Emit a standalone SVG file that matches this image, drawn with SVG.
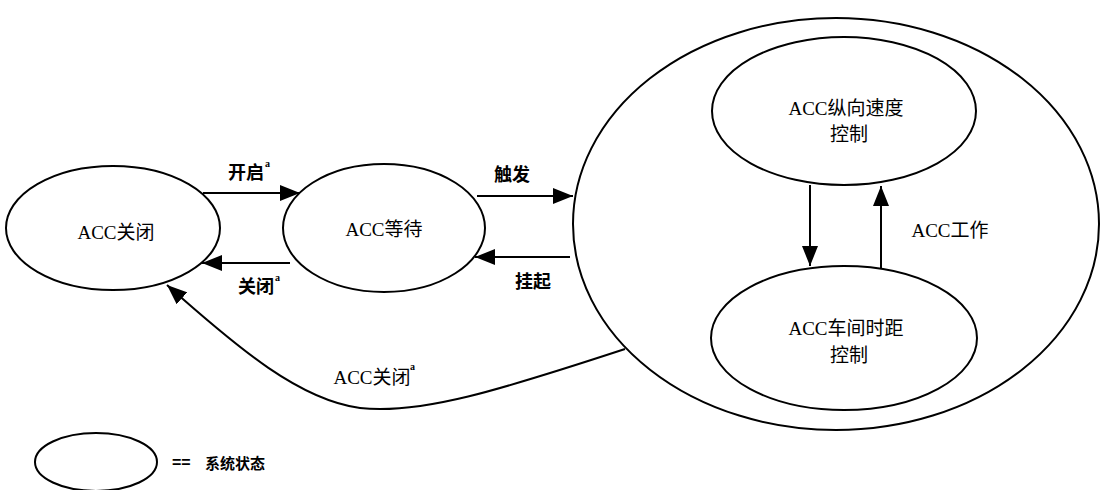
<svg xmlns="http://www.w3.org/2000/svg" width="1102" height="490" viewBox="0 0 1102 490">
<defs>
<marker id="ah" viewBox="0 0 20 16" refX="20" refY="8" markerWidth="20" markerHeight="16" markerUnits="userSpaceOnUse" orient="auto">
<path d="M0,0 L20,8 L0,16 Z" fill="#000"/>
</marker>
</defs>
<style>
.st{fill:none;stroke:#000;stroke-width:2}
.ln{fill:none;stroke:#000;stroke-width:2;marker-end:url(#ah)}
.t{font-family:"Liberation Serif","Noto Sans CJK SC",serif;font-size:19px;fill:#000;text-anchor:middle;dominant-baseline:central}
.lb{font-family:"Liberation Serif","Noto Sans CJK SC",serif;font-size:18px;font-weight:bold;fill:#000;text-anchor:middle;dominant-baseline:central}
.sup{font-family:"Liberation Serif",serif;font-size:10px;font-weight:bold;fill:#000}
</style>
<rect width="1102" height="490" fill="#fff"/>
<g id="node-acc-off">
<ellipse class="st" cx="113" cy="228" rx="107" ry="62"/>
<text class="t" x="116" y="232">ACC关闭</text>
</g>
<g id="node-acc-wait">
<ellipse class="st" cx="384" cy="228" rx="101" ry="64"/>
<text class="t" x="384" y="229">ACC等待</text>
</g>
<g id="node-acc-active">
<ellipse class="st" cx="836" cy="224" rx="263" ry="206"/>
</g>
<g id="node-speed">
<ellipse class="st" cx="844" cy="111" rx="132" ry="74"/>
<text class="t" x="846" y="108">ACC纵向速度</text>
<text class="t" x="849" y="134">控制</text>
</g>
<g id="node-gap">
<ellipse class="st" cx="844" cy="338" rx="133" ry="72"/>
<text class="t" x="846" y="328">ACC车间时距</text>
<text class="t" x="849" y="355">控制</text>
</g>
<g id="legend">
<ellipse class="st" cx="96" cy="462" rx="61" ry="29"/>
<text x="172" y="468" style="font-family:'Liberation Sans',sans-serif;font-size:16px;font-weight:bold">==</text>
<text x="205" y="469" style="font-family:'Noto Sans CJK SC',sans-serif;font-size:15px;font-weight:bold">系统状态</text>
</g>
<g id="connectors">
<line class="ln" x1="203" y1="193" x2="300" y2="193"/>
<line class="ln" x1="290" y1="263" x2="202" y2="263"/>
<line class="ln" x1="477" y1="196" x2="573" y2="196"/>
<line class="ln" x1="570" y1="257" x2="475" y2="257"/>
<path class="ln" d="M625,349 C500,390 420,415 360,408 C300,400 240,350 167,285"/>
<line class="ln" x1="810" y1="185" x2="810" y2="266"/>
<line class="ln" x1="881" y1="268" x2="881" y2="186"/>
</g>
<g id="labels">
<text class="lb" x="246" y="173">开启</text><text class="sup" x="265" y="167">a</text>
<text class="lb" x="256" y="287">关闭</text><text class="sup" x="275" y="281">a</text>
<text class="lb" x="512" y="175">触发</text>
<text class="lb" x="533" y="282">挂起</text>
<text class="t" x="372" y="377">ACC关闭</text><text class="sup" x="410" y="370">a</text>
<text class="t" x="950" y="230">ACC工作</text>
</g>
</svg>
